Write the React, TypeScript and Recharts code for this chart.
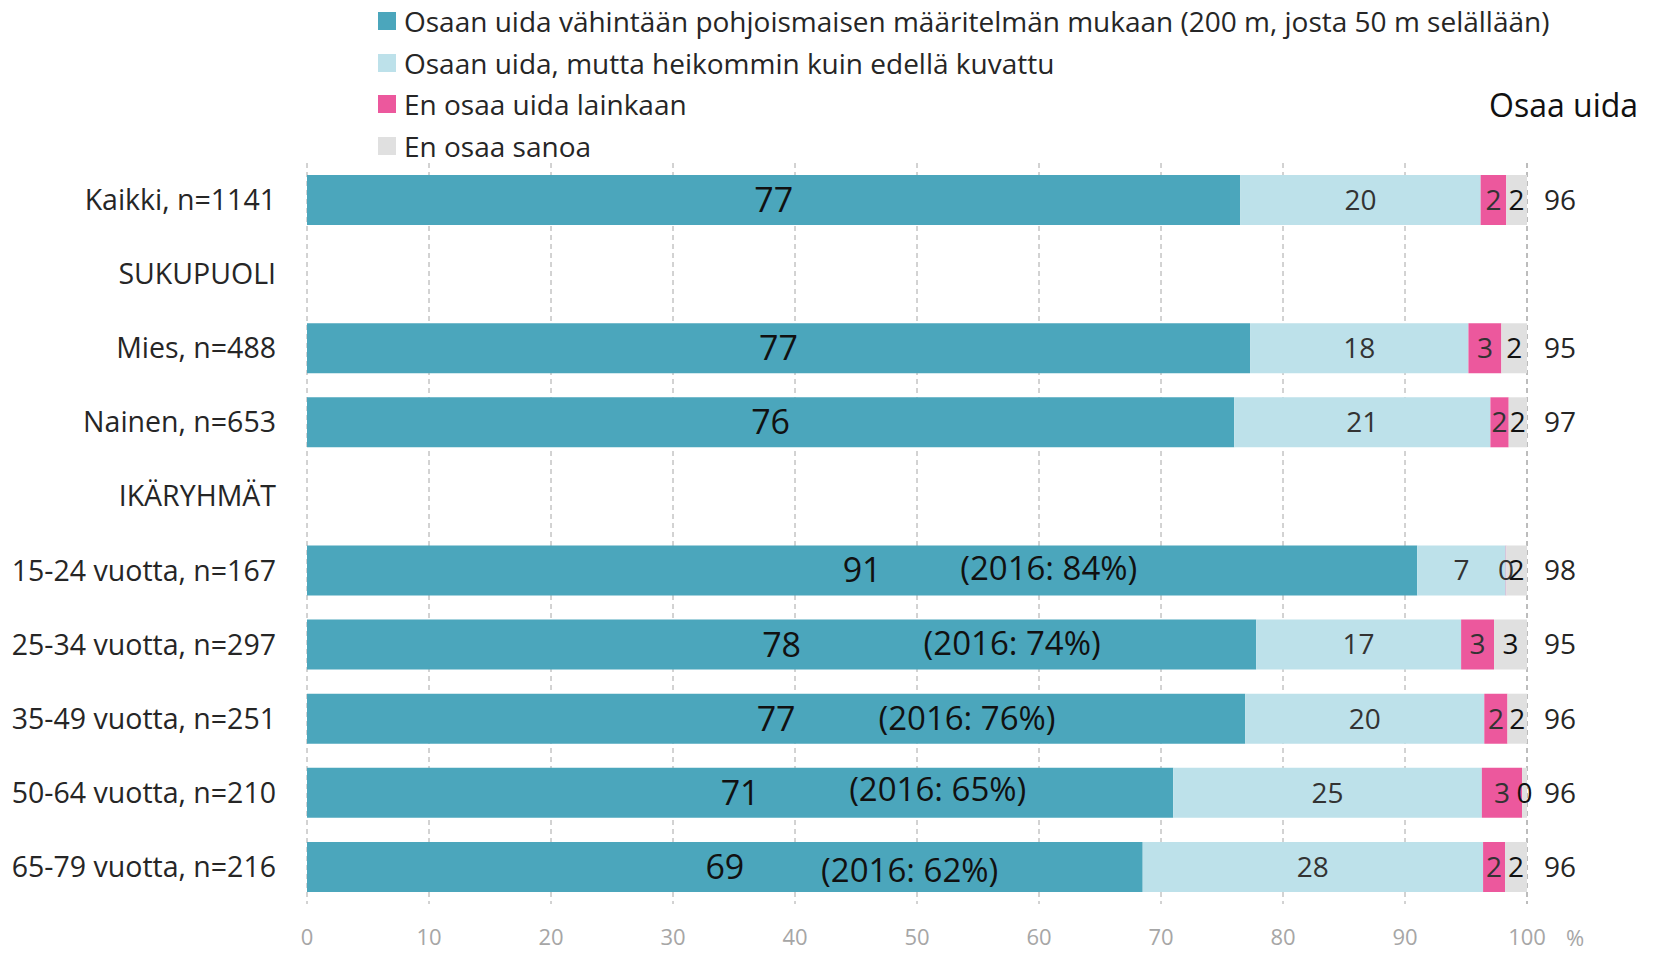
import React from 'react';
import { BarChart, Bar, XAxis, YAxis, CartesianGrid, LabelList } from 'recharts';

const categories = [
  'Kaikki, n=1141',
  'SUKUPUOLI',
  'Mies, n=488',
  'Nainen, n=653',
  'IKÄRYHMÄT',
  '15-24 vuotta, n=167',
  '25-34 vuotta, n=297',
  '35-49 vuotta, n=251',
  '50-64 vuotta, n=210',
  '65-79 vuotta, n=216',
];

const seriesNames = [
  'Osaan uida vähintään pohjoismaisen määritelmän mukaan (200 m, josta 50 m selällään)',
  'Osaan uida, mutta heikommin kuin edellä kuvattu',
  'En osaa uida lainkaan',
  'En osaa sanoa',
];

const nordic = [76.5, null, 77.3, 76.0, null, 91.0, 77.8, 76.9, 71.0, 68.5];
const weaker = [19.7, null, 17.9, 21.0, null, 7.26, 16.8, 19.6, 25.3, 27.9];
const cannot = [2.1, null, 2.7, 1.5, null, 0.04, 2.7, 1.9, 3.3, 1.8];
const dontKnow = [1.7, null, 2.1, 1.5, null, 1.7, 2.7, 1.6, 0.4, 1.8];
const canSwim = [96, null, 95, 97, null, 98, 95, 96, 96, 96];
const notes = [null, null, null, null, null, '(2016: 84%)', '(2016: 74%)', '(2016: 76%)', '(2016: 65%)', '(2016: 62%)'];

const xTicks = [0, 10, 20, 30, 40, 50, 60, 70, 80, 90, 100];

const colors = ['#4ba6bc', '#bde1ea', '#ec589d', '#e0e0e0'];
const keys = ['nordic', 'weaker', 'cannot', 'dontKnow'];

// where the 2016 notes sit along the teal bar (axis units) and a small vertical nudge
const notePos = [null, null, null, null, null, [60.8, -2], [57.8, -1], [54.1, 0], [51.7, -3], [49.4, 4]];

const data = categories.map((name, i) => ({
  name,
  nordic: nordic[i],
  weaker: weaker[i],
  cannot: cannot[i],
  dontKnow: dontKnow[i],
  row: i,
}));

const FONT = '"Open Sans", sans-serif';

const CategoryTick = (props: any) => {
  const { x, y, payload } = props;
  return (
    <text x={x - 23} y={y} dy="0.35em" textAnchor="end" fontSize={28.5} fill="#262626" fontFamily={FONT}>
      {payload.value}
    </text>
  );
};

const ValueTick = (props: any) => {
  const { x, payload } = props;
  return (
    <text x={x} y={937} dy="0.35em" textAnchor="middle" fontSize={22} fill="#a6a6a6" fontFamily={FONT}>
      {payload.value}
    </text>
  );
};

const centerLabel = (fontSize: number, fill: string) => (props: any) => {
  const { x, y, width, height, value } = props;
  if (value === null || value === undefined) return null;
  return (
    <text x={x + width / 2} y={y + height / 2} dy="0.35em" textAnchor="middle" fontSize={fontSize} fill={fill} fontFamily={FONT}>
      {Math.round(Number(value))}
    </text>
  );
};

// label value is the row index, so the note and its place can be looked up
const NoteLabel = (props: any) => {
  const { x, y, width, height, value } = props;
  const note = notes[value];
  const pos = notePos[value];
  if (!note || !pos) return null;
  const teal = nordic[value] as number;
  const nx = x + (width * pos[0]) / teal;
  return (
    <text x={nx} y={y + height / 2 + pos[1]} dy="0.35em" textAnchor="middle" fontSize={33} fill="#111" fontFamily={FONT}>
      {note}
    </text>
  );
};

const TotalLabel = (props: any) => {
  const { x, y, width, height, value } = props;
  const v = canSwim[value];
  if (v === null || v === undefined) return null;
  return (
    <text x={x + width + 17} y={y + height / 2} dy="0.35em" textAnchor="start" fontSize={28} fill="#262626" fontFamily={FONT}>
      {v}
    </text>
  );
};

export default function App() {
  return (
    <div style={{ position: 'relative', width: 1654, height: 953, fontFamily: FONT, background: '#fff' }}>
      <style>{'body{margin:0}'}</style>
      <div style={{ position: 'absolute', left: 378, top: 0 }}>
        {seriesNames.map((s, i) => (
          <div key={s} style={{ display: 'flex', alignItems: 'center', height: 41.7 }}>
            <div style={{ width: 18, height: 18, background: colors[i], marginRight: 8 }} />
            <span style={{ fontSize: 28, color: '#262626', whiteSpace: 'nowrap' }}>{s}</span>
          </div>
        ))}
      </div>
      <div style={{ position: 'absolute', left: 1489, top: 84, fontSize: 32, color: '#111', whiteSpace: 'nowrap', lineHeight: '42px' }}>
        Osaa uida
      </div>
      <div style={{ position: 'absolute', left: 1566, top: 922, fontSize: 22, color: '#a6a6a6', lineHeight: '30px' }}>%</div>
      <div style={{ position: 'absolute', left: 0, top: 0 }}>
        <BarChart width={1654} height={953} layout="vertical" data={data} margin={{ top: 163, right: 127, bottom: 9, left: 0 }} barSize={50}>
          <CartesianGrid horizontal={false} strokeDasharray="5 4" stroke="#a6a6a6" />
          <XAxis type="number" domain={[0, 100]} ticks={xTicks} axisLine={false} tickLine={false} height={40} tick={<ValueTick />} interval={0} />
          <YAxis type="category" dataKey="name" width={307} axisLine={false} tickLine={false} tick={<CategoryTick />} interval={0} />
          {keys.map((k, i) => (
            <Bar key={k} dataKey={k} stackId="a" fill={colors[i]} isAnimationActive={false}>
              <LabelList dataKey={k} content={centerLabel(i === 0 ? 34 : 28, i === 0 || i === 3 ? '#111' : '#333')} />
              {i === 0 && <LabelList dataKey="row" content={<NoteLabel />} />}
              {i === 3 && <LabelList dataKey="row" content={<TotalLabel />} />}
            </Bar>
          ))}
        </BarChart>
      </div>
    </div>
  );
}
